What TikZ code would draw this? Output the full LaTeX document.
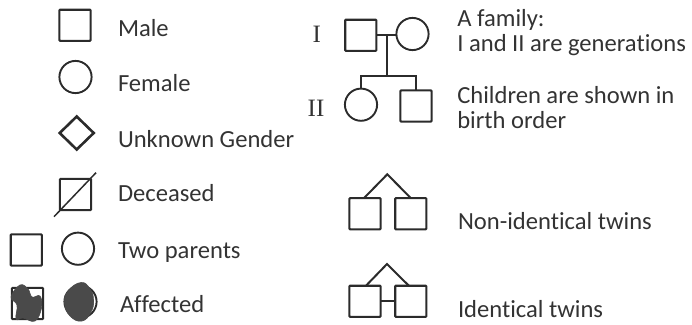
\documentclass[tikz,border=0pt]{standalone}
\usepackage{fontspec}
\setmainfont[Ligatures=NoCommon]{Carlito}
\newfontfamily\numfont{Liberation Serif}
\usetikzlibrary{shapes.geometric,calc}
\definecolor{ink}{HTML}{2B2B2B}
\definecolor{txt}{HTML}{333333}
\definecolor{blob}{HTML}{4A4A4A}
\tikzset{
  sq/.style={draw=ink,line width=2.1pt,rectangle,rounded corners=0.8pt,minimum size=31.2pt,inner sep=0pt,outer sep=0pt},
  ci/.style={draw=ink,line width=1.9pt,circle,minimum size=32.2pt,inner sep=0pt,outer sep=0pt},
  di/.style={draw=ink,line width=2.6pt,diamond,minimum width=34pt,minimum height=33pt,inner sep=0pt,outer sep=0pt},
  lbl/.style={anchor=base west,inner sep=0pt,outer sep=0pt,text=txt,font=\fontsize{24.6}{24.6}\selectfont},
  gen/.style={anchor=base,inner sep=0pt,outer sep=0pt,text=txt,font=\numfont\fontsize{25}{25}\selectfont},
  link/.style={draw=ink,line width=2pt},
  thin link/.style={draw=ink,line width=1.5pt},
  scrib/.style={fill=blob,draw=blob,line width=0.6pt}
}
\begin{document}
\begin{tikzpicture}[x=1pt,y=-1pt]
\useasboundingbox (0,0) rectangle (692,324);
% legend
\node[sq] (male) at (75,25.3) {};
\node[lbl] (tmale) at (118,36) {Male};
\node[ci] (female) at (75.5,77) {};
\node[lbl] (tfemale) at (118,91.5) {Female};
\node[di] (unk) at (76.7,133) {};
\node[lbl] (tunk) at (118,147.3) {Unknown Gender};
\node[sq] (dec) at (75.5,194.5) {};
\coordinate (decA) at (54,216.7);
\coordinate (decB) at (96,172.7);
\draw[thin link] (decA) -- (decB);
\node[lbl] (tdec) at (118,201.7) {Deceased};
\node[sq] (pm) at (26.3,250) {};
\node[ci] (pf) at (78,248.7) {};
\node[lbl] (tpar) at (118,258) {Two parents};
% affected
\node[sq] (am) at (27.5,303.5) {};
\node[ci] (af) at (80.5,301.7) {};
\fill[scrib] plot[smooth cycle,tension=0.7] coordinates {(11,297) (20,285) (28,289) (32,297) (40,296) (41.5,308) (35,321) (23,318) (16,319) (17,305)};
\fill[scrib] plot[smooth cycle,tension=0.8] coordinates {(81,282.5) (90,289) (93.5,300) (91,312) (82,321) (70,316) (64.5,303) (68,291)};
\node[lbl] (taff) at (120,312.7) {Affected};
% family
\node[sq] (fm) at (360.8,35.3) {};
\node[ci] (ff) at (412.5,34) {};
\node[gen] (g1) at (316.7,42.7) {I};
\node[gen] (g2) at (316,116) {II};
\draw[link] (fm.east |- 0,35) -- (ff.west |- 0,35);
\coordinate (drop) at (387.3,35);
\coordinate (bar) at (387.3,75.7);
\node[ci] (c1) at (361,104.7) {};
\node[sq] (c2) at (416,106) {};
\draw[link] (drop) -- (bar);
\draw[link] (c1.north) -- (c1.north |- bar) -- (c2.north |- bar) -- (c2.north);
\node[lbl] (t1) at (457.3,26.7) {A family:};
\node[lbl] (t2) at (457.3,51.7) {I and II are generations};
\node[lbl] (t3) at (457.3,103.3) {Children are shown in};
\node[lbl] (t4) at (457.3,128.3) {birth order};
% non-identical twins
\node[sq] (n1) at (365,213.7) {};
\node[sq] (n2) at (410.8,213.7) {};
\coordinate (napex) at (387.3,174.3);
\draw[link] ($(n1.north)+(-1,0)$) -- (napex) -- ($(n2.north)+(0,0)$);
\node[lbl] (t5) at (458,229.3) {Non-identical twins};
% identical twins
\node[sq] (i1) at (365,301.3) {};
\node[sq] (i2) at (410.8,301.3) {};
\coordinate (iapex) at (387,264);
\draw[link] ($(i1.north)+(1,0)$) -- (iapex) -- ($(i2.north)+(-2,0)$);
\draw[link] (i1.east) -- (i2.west);
\node[lbl] (t6) at (458,317.3) {Identical twins};
\end{tikzpicture}
\end{document}
